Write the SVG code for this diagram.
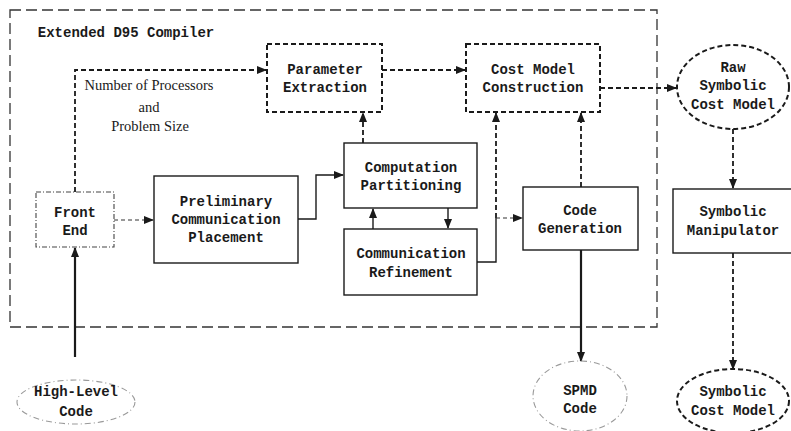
<svg xmlns="http://www.w3.org/2000/svg" width="791" height="431" viewBox="0 0 791 431">
<defs>
<marker id="ah" markerUnits="userSpaceOnUse" markerWidth="10" markerHeight="8" refX="9" refY="4" orient="auto">
<path d="M0,0 L10,4 L0,8 z" fill="#1a1a1a"/>
</marker>
<style>
.mono{font-family:"Liberation Mono","DejaVu Sans Mono",monospace;font-weight:bold;font-size:14px;fill:#1a1a1a;text-anchor:middle}
.serif{font-family:"Liberation Serif","DejaVu Serif",serif;font-size:14.5px;fill:#1a1a1a;text-anchor:middle}
.box{fill:none;stroke:#1a1a1a;stroke-width:1.4}
.dbox{fill:none;stroke:#1a1a1a;stroke-width:2;stroke-dasharray:5 3}
.thin{fill:none;stroke:#444;stroke-width:1.1;stroke-dasharray:5 2 1 2}
.light{fill:none;stroke:#999;stroke-width:1.1;stroke-dasharray:6 3 1 3}
.outer{fill:none;stroke:#333;stroke-width:1.3;stroke-dasharray:11 5}
.dc{fill:none;stroke:#1a1a1a;stroke-width:1.8;stroke-dasharray:5 3;marker-end:url(#ah)}
.sc{fill:none;stroke:#1a1a1a;stroke-width:1.4;marker-end:url(#ah)}
.sl{fill:none;stroke:#1a1a1a;stroke-width:1.4}
.hc{fill:none;stroke:#1a1a1a;stroke-width:2.2;marker-end:url(#ah)}
.tc{fill:none;stroke:#333;stroke-width:1.2;stroke-dasharray:4 3;marker-end:url(#ah)}
</style>
</defs>
<rect width="791" height="431" fill="#ffffff"/>

<g id="compiler">
<rect class="outer" x="10" y="10" width="647" height="317"/>
<text class="mono" x="126" y="37">Extended D95 Compiler</text>
</g>

<g id="connectors">
<path class="dc" d="M75,192 V70 H266"/>
<path class="dc" d="M382,70 H465"/>
<path class="dc" d="M600,88 H676"/>
<path class="dc" d="M363,143 V113"/>
<path class="dc" d="M496,218 V113"/>
<path class="dc" d="M581,187 V113"/>
<path class="dc" d="M733,129 V188"/>
<path class="dc" d="M733,253 V369"/>
<path class="tc" d="M114,220 H153"/>
<path class="sc" d="M298,219 H316 V175 H343"/>
<path class="sc" d="M373,229 V209"/>
<path class="sc" d="M448,208 V228"/>
<path class="sl" d="M477,262 H496 V218"/>
<path class="tc" d="M496,218 H522"/>
<path class="hc" d="M581,250 V361"/>
<path class="hc" d="M75,357 V248"/>
<text class="serif" x="149" y="90">Number of Processors</text>
<text class="serif" x="149" y="112">and</text>
<text class="serif" x="150" y="131">Problem Size</text>
</g>

<g id="front-end">
<rect class="thin" x="36" y="192" width="78" height="55"/>
<text class="mono" x="75" y="217">Front</text>
<text class="mono" x="75" y="235">End</text>
</g>

<g id="preliminary">
<rect class="box" x="154" y="176" width="144" height="87"/>
<text class="mono" x="226" y="206">Preliminary</text>
<text class="mono" x="226" y="224">Communication</text>
<text class="mono" x="226" y="242">Placement</text>
</g>

<g id="parameter-extraction">
<rect class="dbox" x="267" y="44" width="115" height="68"/>
<text class="mono" x="325" y="74">Parameter</text>
<text class="mono" x="325" y="92">Extraction</text>
</g>

<g id="cost-model-construction">
<rect class="dbox" x="466" y="44" width="134" height="68"/>
<text class="mono" x="533" y="74">Cost Model</text>
<text class="mono" x="533" y="92">Construction</text>
</g>

<g id="computation-partitioning">
<rect class="box" x="344" y="143" width="133" height="65"/>
<text class="mono" x="411" y="172">Computation</text>
<text class="mono" x="411" y="190">Partitioning</text>
</g>

<g id="communication-refinement">
<rect class="box" x="344" y="229" width="133" height="66"/>
<text class="mono" x="411" y="258">Communication</text>
<text class="mono" x="411" y="277">Refinement</text>
</g>

<g id="code-generation">
<rect class="box" x="523" y="187" width="115" height="63"/>
<text class="mono" x="580" y="215">Code</text>
<text class="mono" x="580" y="233">Generation</text>
</g>

<g id="raw-symbolic-cost-model">
<ellipse class="dbox" cx="733" cy="87" rx="56" ry="42"/>
<text class="mono" x="733" y="72">Raw</text>
<text class="mono" x="733" y="90">Symbolic</text>
<text class="mono" x="733" y="109">Cost Model</text>
</g>

<g id="symbolic-manipulator">
<rect class="box" x="673" y="189" width="125" height="64"/>
<text class="mono" x="733" y="216">Symbolic</text>
<text class="mono" x="733" y="235">Manipulator</text>
</g>

<g id="symbolic-cost-model">
<ellipse class="dbox" cx="733" cy="401" rx="56" ry="32"/>
<text class="mono" x="733" y="396">Symbolic</text>
<text class="mono" x="733" y="415">Cost Model</text>
</g>

<g id="spmd-code">
<ellipse class="light" cx="580" cy="396" rx="47" ry="35"/>
<text class="mono" x="580" y="395">SPMD</text>
<text class="mono" x="580" y="413">Code</text>
</g>

<g id="high-level-code">
<ellipse class="light" cx="76" cy="402" rx="59" ry="22"/>
<text class="mono" x="76" y="396">High-Level</text>
<text class="mono" x="76" y="416">Code</text>
</g>
</svg>
